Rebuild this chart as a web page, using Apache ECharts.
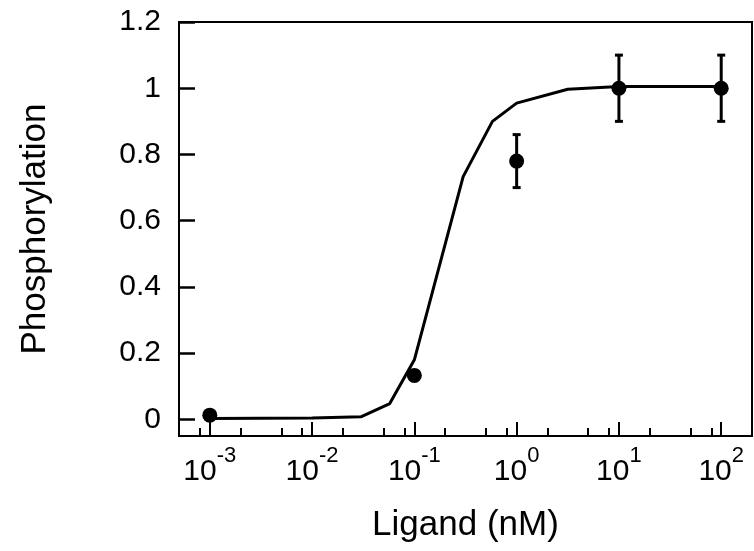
<!DOCTYPE html>
<html>
<head>
<meta charset="utf-8">
<script src="https://cdn.jsdelivr.net/npm/echarts@6/dist/echarts.min.js"></script>
<style>
html,body{margin:0;padding:0;background:#fff;}
#c{width:754px;height:551px;}
</style>
</head>
<body>
<div id="c"></div>
<script>
// Fitted curve (polyline vertices)
const curveX = [0.001, 0.01, 0.03, 0.0575, 0.1, 0.3, 0.58, 1, 3.16, 10, 100];
const curveY = [0.003, 0.004, 0.008, 0.048, 0.18, 0.733, 0.9, 0.955, 0.997, 1.005, 1.005];
// Measured points
const pointX = [0.001, 0.1, 1, 10, 100];
const pointY = [0.013, 0.133, 0.78, 1.0, 1.0];
const errLow = [null, null, 0.70, 0.90, 0.90];
const errHigh = [null, null, 0.86, 1.10, 1.10];
// Ticks
const xMajorTicks = [0.001, 0.01, 0.1, 1, 10, 100];
const xMinorTicks = [0.0008, 0.002, 0.005, 0.008, 0.02, 0.05, 0.08, 0.2, 0.5, 0.8,
                     2, 5, 8, 20, 50, 80];
const yTicks = [0, 0.2, 0.4, 0.6, 0.8, 1, 1.2];

const chart = echarts.init(document.getElementById('c'), null, {renderer: 'canvas'});
const font = 'Liberation Sans, Arial, Helvetica, sans-serif';

const curveData = curveX.map((x, i) => [x, curveY[i]]);
const pointData = pointX.map((x, i) => [x, pointY[i]]);
const errData = [];
pointX.forEach((x, i) => { if (errLow[i] != null) errData.push([x, errLow[i], errHigh[i]]); });

const X_MIN = 0.0005, X_MAX = 200, Y_MIN = -0.05, Y_MAX = 1.2;
const tickLine = {color: '#000', width: 2};

const option = {
  animation: false,
  backgroundColor: '#fff',
  grid: {left: 179, right: 2, top: 22, bottom: 115, show: true, borderColor: '#000', borderWidth: 2, backgroundColor: 'transparent'},
  xAxis: [{
    type: 'log', logBase: 10, min: X_MIN, max: X_MAX,
    name: 'Ligand (nM)', nameLocation: 'middle', nameGap: 72,
    nameTextStyle: {fontFamily: font, fontSize: 35, color: '#000'},
    axisLine: {show: true, onZero: false, lineStyle: tickLine},
    axisTick: {show: false},
    axisLabel: {
      show: true, margin: 9, customValues: xMajorTicks,
      formatter: v => '{b|10}{s|' + Math.round(Math.log10(v)) + '}',
      rich: {
        b: {fontFamily: font, fontSize: 30, color: '#000', lineHeight: 42, verticalAlign: 'bottom'},
        s: {fontFamily: font, fontSize: 22, color: '#000', lineHeight: 22, verticalAlign: 'top'}
      }
    },
    splitLine: {show: false}
  }, {
    type: 'log', logBase: 10, min: X_MIN, max: X_MAX, position: 'bottom',
    axisLine: {show: false, onZero: false},
    axisTick: {show: true, inside: true, length: 14, lineStyle: tickLine, customValues: xMajorTicks},
    axisLabel: {show: false},
    splitLine: {show: false}
  }, {
    type: 'log', logBase: 10, min: X_MIN, max: X_MAX, position: 'bottom',
    axisLine: {show: false, onZero: false},
    axisTick: {show: true, inside: true, length: 8, lineStyle: tickLine, customValues: xMinorTicks},
    axisLabel: {show: false},
    splitLine: {show: false}
  }],
  yAxis: [{
    type: 'value', min: Y_MIN, max: Y_MAX, position: 'left',
    name: 'Phosphorylation', nameLocation: 'middle', nameGap: 126, nameRotate: 90,
    nameTextStyle: {fontFamily: font, fontSize: 35, color: '#000'},
    axisLine: {show: true, onZero: false, lineStyle: tickLine},
    axisTick: {show: true, inside: true, length: 16, lineStyle: {color: '#000', width: 2.5}, customValues: yTicks},
    axisLabel: {show: true, margin: 18, customValues: yTicks, fontFamily: font, fontSize: 30, color: '#000',
      formatter: v => String(v)},
    splitLine: {show: false}
  }],
  series: [{
    type: 'line', data: curveData, showSymbol: false, symbol: 'none',
    lineStyle: {color: '#000', width: 3}, z: 2
  }, {
    type: 'custom', z: 3,
    renderItem: (params, api) => {
      const x = api.value(0), lo = api.value(1), hi = api.value(2);
      const pl = api.coord([x, lo]), ph = api.coord([x, hi]);
      const cw = 4;
      const st = {stroke: '#000', lineWidth: 3};
      return {type: 'group', children: [
        {type: 'line', shape: {x1: pl[0], y1: pl[1], x2: ph[0], y2: ph[1]}, style: st},
        {type: 'line', shape: {x1: pl[0]-cw, y1: pl[1], x2: pl[0]+cw, y2: pl[1]}, style: st},
        {type: 'line', shape: {x1: ph[0]-cw, y1: ph[1], x2: ph[0]+cw, y2: ph[1]}, style: st}
      ]};
    },
    data: errData
  }, {
    type: 'scatter', data: pointData, symbol: 'circle', symbolSize: 15,
    itemStyle: {color: '#000', opacity: 1}, z: 4
  }]
};
chart.setOption(option);
</script>
</body>
</html>
